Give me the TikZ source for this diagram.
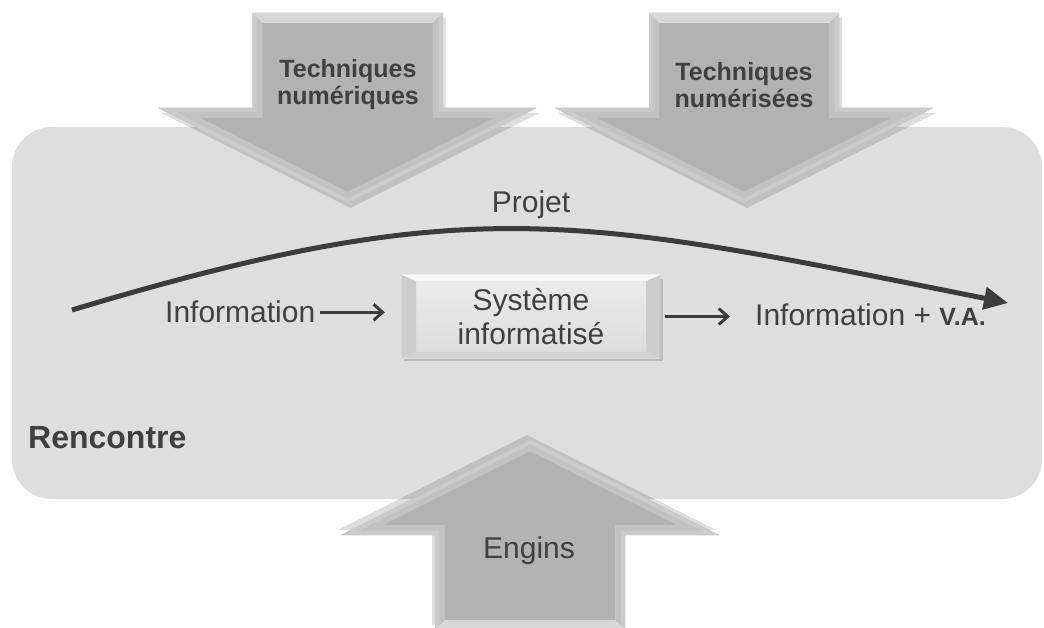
\documentclass[tikz,border=0pt]{standalone}
\usepackage{fontspec}
\setmainfont{Liberation Sans}
\usetikzlibrary{arrows.meta}
\definecolor{bgc}{HTML}{DEDEDE}
\definecolor{arrface}{HTML}{B2B2B2}
\definecolor{arrbevel}{HTML}{C2C2C2}
\definecolor{arrbevel2}{HTML}{CBCBCB}
\definecolor{arrtop}{HTML}{D8D8D8}
\definecolor{txt}{HTML}{404040}
\definecolor{ln}{HTML}{3C3C3C}
\definecolor{boxtop}{HTML}{ECECEC}
\definecolor{boxbot}{HTML}{DCDCDC}
\definecolor{bevside}{HTML}{CDCDCD}
\definecolor{bevtop}{HTML}{F6F6F6}
\definecolor{bevbot}{HTML}{D2D2D2}
\newcommand\myarrowshape{(-95,0) -- (95,0) -- (95,95) -- (189,95) -- (0,190) -- (-189,95) -- (-95,95) -- cycle}
\tikzset{
  lbl/.style={text=txt, inner sep=0pt, font=\fontsize{30}{34}\selectfont},
  lblbold/.style={text=txt, inner sep=0pt, align=center, font=\bfseries\fontsize{25}{27}\selectfont},
  smallarr/.style={draw=ln, line width=3pt, -{Straight Barb[length=9pt,width=16pt]}},
  pics/bigarr/.style={code={
    \fill[black, opacity=0.13, shift={(3,5)}] \myarrowshape;
    \begin{scope}
      \clip \myarrowshape;
      \fill[arrface] \myarrowshape;
      \draw[arrbevel, line width=20pt] \myarrowshape;
      \draw[arrbevel2, line width=8pt] \myarrowshape;
      \fill[arrtop] (-95,0) -- (95,0) -- (85,10) -- (-85,10) -- cycle;
    \end{scope}
  }},
  sysbox/.style={lbl, align=center, minimum width=258pt, minimum height=83pt,
    top color=boxtop, bottom color=boxbot,
    path picture={
      \path (path picture bounding box.south west) coordinate (bsw)
            (path picture bounding box.north east) coordinate (bne)
            (path picture bounding box.north west) coordinate (bnw)
            (path picture bounding box.south east) coordinate (bse);
      \fill[bevside] (bsw) -- ([shift={(14pt,6pt)}]bsw) -- ([shift={(14pt,-6pt)}]bnw) -- (bnw) -- cycle;
      \fill[bevside] (bse) -- ([shift={(-14pt,6pt)}]bse) -- ([shift={(-14pt,-6pt)}]bne) -- (bne) -- cycle;
      \fill[bevtop] (bnw) -- ([shift={(14pt,-6pt)}]bnw) -- ([shift={(-14pt,-6pt)}]bne) -- (bne) -- cycle;
      \fill[bevbot] (bsw) -- ([shift={(14pt,6pt)}]bsw) -- ([shift={(-14pt,6pt)}]bse) -- (bse) -- cycle;
    }}
}
\begin{document}
\begin{tikzpicture}[x=1pt,y=-1pt]
\useasboundingbox (0,0) rectangle (1044,628);
% background panel
\fill[bgc, rounded corners=40pt] (12,127) rectangle (1042,499);
% big arrows
\pic at (347.5,13) {bigarr};
\pic at (744,13) {bigarr};
\pic[rotate=180] at (530,630) {bigarr};
\node[lblbold] (tn) at (348,85) {Techniques\\numériques};
\node[lblbold] (ts) at (744,85) {Techniques\\numérisées};
\node[lbl, anchor=base] (eng) at (529,558) {Engins};
% project curve
\coordinate (ps) at (72,310);
\coordinate (pe) at (1008,303);
\draw[ln, line width=5pt, -{Triangle[length=24pt,width=22pt]}] (ps) .. controls (472,190) and (578,217) .. (pe);
\node[lbl, anchor=base] (proj) at (531,213) {Projet};
% system box
\fill[black, opacity=0.15] (404,279) rectangle (663,361);
\node[sysbox] (sys) at (531,316.5) {Système\\informatisé};
\node[lbl, anchor=base west] (info) at (165,323) {Information};
\node[lbl, anchor=base west] (infova) at (755,325) {Information + {\bfseries\fontsize{25}{30}\selectfont V.A.}};
\draw[smallarr, shorten <=5pt, shorten >=17pt] (info.east) -- (info.east -| sys.west);
\draw[smallarr, shorten <=5pt, shorten >=25pt] (sys.east) -- (sys.east -| infova.west);
\node[lbl, anchor=base west, font=\bfseries\fontsize{32}{36}\selectfont] (renc) at (28,448) {Rencontre};
\end{tikzpicture}
\end{document}
